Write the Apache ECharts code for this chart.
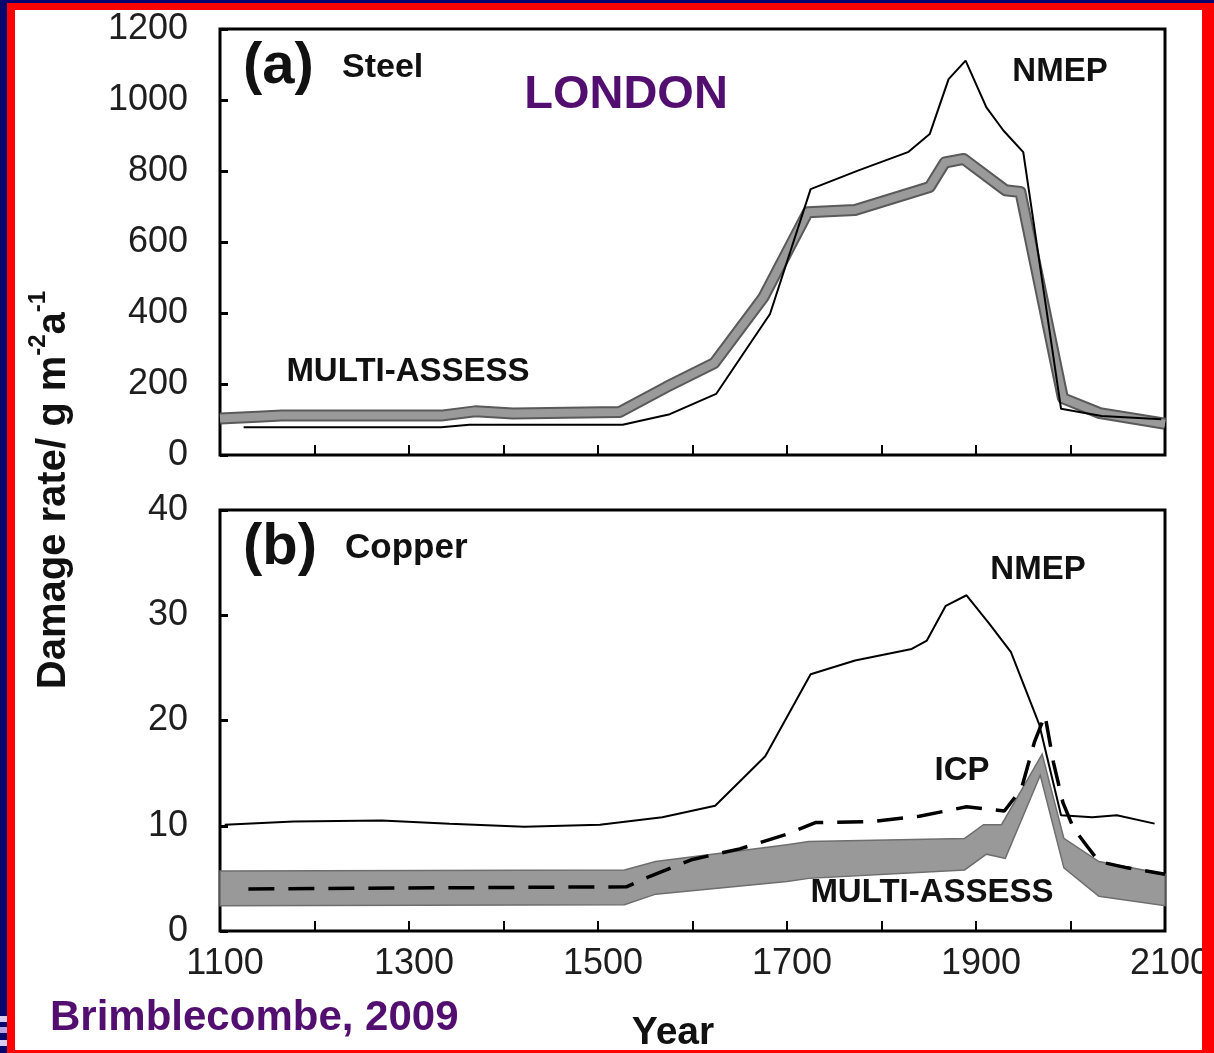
<!DOCTYPE html>
<html>
<head>
<meta charset="utf-8">
<script src="https://cdn.jsdelivr.net/npm/echarts@6/dist/echarts.min.js"></script>
<style>
html,body{margin:0;padding:0;}
#wrap{position:relative;width:1214px;height:1053px;background:#06066e;overflow:hidden;}
#red{position:absolute;left:7px;top:3px;right:0;bottom:0;background:#ff0000;}
#white{position:absolute;left:15px;top:10px;right:12px;bottom:3px;background:#fff;}
#chart{position:absolute;left:0;top:0;width:1214px;height:1053px;}
#redR{position:absolute;left:1202px;top:3px;width:12px;height:1050px;background:#ff0000;}
.lil{position:absolute;left:0;width:7px;}
</style>
</head>
<body>
<div id="wrap">
  <div id="red"></div>
  <div id="white"></div>
  <div class="lil" style="top:1016px;height:6px;background:#d9ccf2;"></div>
  <div class="lil" style="top:1027px;height:6px;background:#b9a3e3;"></div>
  <div class="lil" style="top:1040px;height:6px;background:#d9ccf2;"></div>
  <div id="chart"></div>
  <div id="redR"></div>
</div>
<script>
// ---- Data (year, value) ----
const steelNMEP = [[1125,78],[1334,78],[1364,85],[1526,85],[1576,115],[1625,172],[1682,397],[1725,749],[1775,801],[1828,853],[1851,904],[1871,1059],[1889,1111],[1911,979],[1929,914],[1950,853],[1990,130],[2033,110],[2096,101]];
const steelMulti = [[1100,103],[1140,108],[1165,111],[1334,111],[1370,123],[1410,117],[1523,121],[1572,191],[1623,259],[1675,444],[1722,684],[1772,690],[1851,755],[1867,824],[1887,834],[1931,746],[1947,741],[1992,160],[2031,118],[2100,88]];

const copperNMEP = [[1105,10.1],[1178,10.4],[1271,10.5],[1343,10.2],[1422,9.9],[1502,10.1],[1568,10.8],[1624,11.9],[1677,16.6],[1725,24.4],[1772,25.7],[1832,26.8],[1848,27.6],[1868,30.9],[1890,31.9],[1914,29.2],[1937,26.5],[1967,19.6],[1990,11.0],[2023,10.8],[2049,11.0],[2089,10.2]];
const copperICP = [[1130,4.0],[1530,4.2],[1555,5.2],[1600,6.8],[1650,7.8],[1700,9.2],[1730,10.3],[1790,10.4],[1840,10.9],[1890,11.8],[1930,11.4],[1948,13.5],[1962,18.0],[1973,20.5],[1982,16.0],[1992,12.2],[2003,9.8],[2018,8.0],[2030,6.6],[2060,6.0],[2100,5.4]];
const copperMultiUpper = [[1100,5.7],[1528,5.8],[1561,6.6],[1700,8.2],[1723,8.5],[1888,8.8],[1908,10.1],[1927,10.1],[1970,16.8],[1993,8.8],[2030,6.6],[2100,5.4]];
const copperMultiLower = [[1100,2.4],[1528,2.5],[1561,3.5],[1700,4.7],[1723,5.0],[1888,5.8],[1911,7.3],[1931,6.9],[1968,14.8],[1993,6.0],[2030,3.3],[2100,2.4]];

const xTicks = {min:1100, max:2100, interval:100};
const steelTicks = {min:0, max:1200, interval:200};
const copperTicks = {min:0, max:40, interval:10};

// ---- Chart ----
const FONT = '"Liberation Sans", Arial, sans-serif';
const PURPLE = '#520f70';
const chart = echarts.init(document.getElementById('chart'), null, {renderer:'canvas'});

function xAxisCfg(gridIndex, showLabels){
  return {
    type:'value', gridIndex, min:xTicks.min, max:xTicks.max, interval:xTicks.interval,
    axisLine:{show:false},
    axisTick:{show:true, inside:true, length:10, lineStyle:{color:'#000', width:2}},
    splitLine:{show:false},
    axisLabel:{show:showLabels, fontSize:36, fontFamily:FONT, color:'#1e1e1e', margin:15, padding:[0,0,0,10],
      formatter: v => ((v - xTicks.min) % 200 === 0 ? String(v) : '')}
  };
}
function yAxisCfg(gridIndex, t){
  return {
    type:'value', gridIndex, min:t.min, max:t.max, interval:t.interval,
    axisLine:{show:false},
    axisTick:{show:true, inside:true, length:8, lineStyle:{color:'#000', width:3}},
    splitLine:{show:false},
    axisLabel:{fontSize:36, fontFamily:FONT, color:'#1e1e1e', margin:32, formatter: v => String(v)}
  };
}

function txt(x, y, text, size, opts){
  return Object.assign({
    type:'text', x, y, z:100,
    style:Object.assign({text, fontSize:size, fontWeight:'bold', fontFamily:FONT, fill:'#111',
      textAlign:'center', textVerticalAlign:'middle'}, (opts && opts.style) || {})
  }, opts && opts.el ? opts.el : {});
}

const option = {
  animation:false,
  backgroundColor:'transparent',
  grid:[
    {left:220, top:29, width:945, height:426, show:true, borderColor:'#000', borderWidth:3, backgroundColor:'transparent'},
    {left:220, top:510, width:945, height:421, show:true, borderColor:'#000', borderWidth:3, backgroundColor:'transparent'}
  ],
  xAxis:[xAxisCfg(0,false), xAxisCfg(1,true)],
  yAxis:[yAxisCfg(0, steelTicks), yAxisCfg(1, copperTicks)],
  series:[
    {type:'line', xAxisIndex:0, yAxisIndex:0, data:steelMulti, showSymbol:false, symbol:'none',
      lineStyle:{color:'#5a5a5a', width:12, join:'round'}, z:2},
    {type:'line', xAxisIndex:0, yAxisIndex:0, data:steelMulti, showSymbol:false, symbol:'none',
      lineStyle:{color:'#9a9a9a', width:8, join:'round'}, z:3},
    {type:'line', xAxisIndex:0, yAxisIndex:0, data:steelNMEP, showSymbol:false, symbol:'none',
      lineStyle:{color:'#000', width:2}, z:4},
    {type:'custom', xAxisIndex:1, yAxisIndex:1, coordinateSystem:'cartesian2d', data:[[1500,5]], z:2,
      renderItem:(params, api) => {
        const pts = copperMultiUpper.map(p => api.coord(p))
          .concat(copperMultiLower.slice().reverse().map(p => api.coord(p)));
        return {type:'polygon', shape:{points:pts}, style:{fill:'#999999', stroke:'#6e6e6e', lineWidth:1.5}};
      }},
    {type:'line', xAxisIndex:1, yAxisIndex:1, data:copperNMEP, showSymbol:false, symbol:'none',
      lineStyle:{color:'#000', width:2}, z:4},
    {type:'line', xAxisIndex:1, yAxisIndex:1, data:copperICP, showSymbol:false, symbol:'none',
      lineStyle:{color:'#000', width:3.5, type:[26,14]}, z:5}
  ],
  graphic:[
    txt(243, 67, '(a)', 58, {style:{textAlign:'left'}}),
    txt(342, 68, 'Steel', 34, {style:{textAlign:'left'}}),
    txt(626, 95, 'LONDON', 47, {style:{fill:PURPLE}}),
    txt(1060, 72, 'NMEP', 33),
    txt(408, 372, 'MULTI-ASSESS', 33),
    txt(243, 548, '(b)', 58, {style:{textAlign:'left'}}),
    txt(345, 548, 'Copper', 35, {style:{textAlign:'left'}}),
    txt(1038, 570, 'NMEP', 33),
    txt(962, 771, 'ICP', 33),
    txt(932, 893, 'MULTI-ASSESS', 33),
    txt(50, 1018, 'Brimblecombe, 2009', 42, {style:{fill:PURPLE, textAlign:'left'}}),
    txt(673, 1033, 'Year', 39),
    {type:'text', x:50, y:490, rotation:Math.PI/2, z:100,
      style:{text:'{b|Damage rate/ g m}{s|-2}{b|a}{s|-1}', textAlign:'center', textVerticalAlign:'middle',
        rich:{
          b:{fontSize:40, fontWeight:'bold', fontFamily:FONT, fill:'#111', lineHeight:48, verticalAlign:'bottom'},
          s:{fontSize:24, fontWeight:'bold', fontFamily:FONT, fill:'#111', lineHeight:48, verticalAlign:'top'}
        }}}
  ]
};
chart.setOption(option);
</script>
</body>
</html>
